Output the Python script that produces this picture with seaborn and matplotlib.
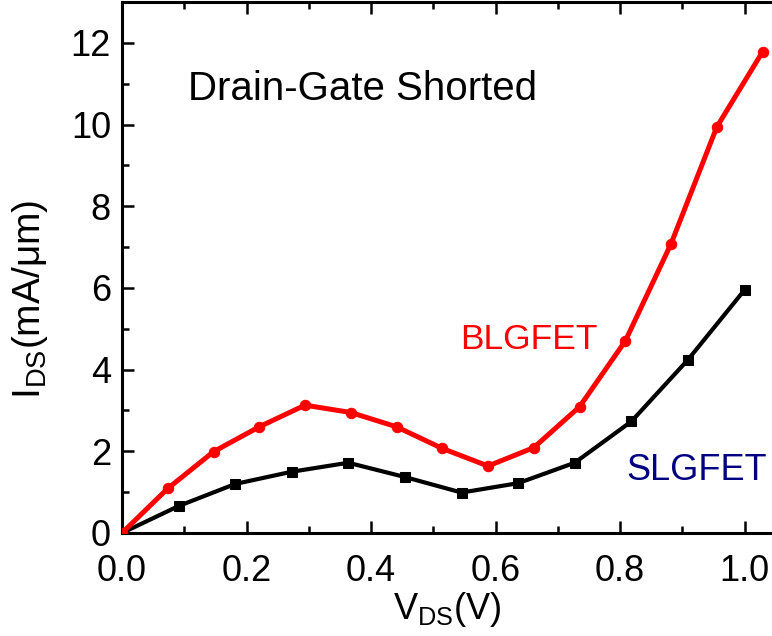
import matplotlib
matplotlib.use("Agg")
import matplotlib.pyplot as plt
import seaborn as sns
from matplotlib.ticker import MultipleLocator

# BLGFET (red circles) and SLGFET (black squares)
bl_vds = [0.0, 0.0735, 0.147, 0.2205, 0.294, 0.3675, 0.441, 0.5145,
          0.588, 0.6615, 0.735, 0.8085, 0.882, 0.9555, 1.029]
bl_ids = [0.0, 1.09, 1.99, 2.60, 3.13, 2.95, 2.60, 2.07,
          1.64, 2.09, 3.09, 4.70, 7.08, 9.94, 11.78]

sl_vds = [0.0, 0.0909, 0.1818, 0.2727, 0.3636, 0.4545, 0.5455,
          0.6364, 0.7273, 0.8182, 0.9091, 1.0]
sl_ids = [0.0, 0.66, 1.20, 1.50, 1.72, 1.37, 0.99,
          1.22, 1.72, 2.73, 4.24, 5.95]

x_ticks = [0.0, 0.2, 0.4, 0.6, 0.8, 1.0]
y_ticks = [0, 2, 4, 6, 8, 10, 12]

sns.set_style("ticks", {"axes.edgecolor": "black", "text.color": "black",
                        "xtick.color": "black", "ytick.color": "black",
                        "axes.labelcolor": "black"})
plt.rcParams["font.family"] = ["Liberation Sans", "DejaVu Sans"]
plt.rcParams["mathtext.fontset"] = "custom"
plt.rcParams["mathtext.rm"] = "Liberation Sans"

fig = plt.figure(figsize=(7.72, 6.36), dpi=100)
ax = fig.add_axes([122 / 772, 103 / 636, 650 / 772, 531 / 636])

sns.lineplot(x=sl_vds, y=sl_ids, ax=ax, color="black", linewidth=3.0,
             marker="s", markersize=6.5, markeredgecolor="black", zorder=3)
sns.lineplot(x=bl_vds, y=bl_ids, ax=ax, color="#ff0000", linewidth=3.6,
             marker="o", markersize=7.5, markeredgecolor="#ff0000", zorder=4)

ax.set_xlim(0, 650 / 622.5)
ax.set_ylim(0, 13)
ax.set_xticks(x_ticks)
ax.set_xticklabels(["0.0", "0.2", "0.4", "0.6", "0.8", "1.0"])
ax.set_yticks(y_ticks)
ax.xaxis.set_minor_locator(MultipleLocator(0.1))
ax.yaxis.set_minor_locator(MultipleLocator(1))

ax.spines["right"].set_visible(False)
for s in ["left", "bottom", "top"]:
    ax.spines[s].set_linewidth(2.2)
ax.tick_params(which="both", direction="in", top=True, right=False,
               width=1.8, labelsize=26)
ax.tick_params(which="major", length=8.5)
ax.tick_params(which="minor", length=5)
ax.tick_params(axis="x", which="major", pad=15)
ax.tick_params(axis="y", which="major", pad=8)

ax.set_xlabel(r"$\mathregular{V_{DS}}$(V)", fontsize=26, labelpad=1)
ax.set_ylabel(r"$\mathregular{I_{DS}}$(mA/μm)", fontsize=28)
ax.yaxis.set_label_coords(-0.11, 0.44)

ax.text(0.106, 10.6, "Drain-Gate Shorted", fontsize=29, ha="left", va="baseline")
ax.text(0.543, 4.51, "BLGFET", fontsize=25.5, color="#ff0000", ha="left", va="baseline")
ax.text(0.8096, 1.30, "SLGFET", fontsize=26, color="#000080", ha="left", va="baseline")

fig.savefig("out.png", dpi=100)
